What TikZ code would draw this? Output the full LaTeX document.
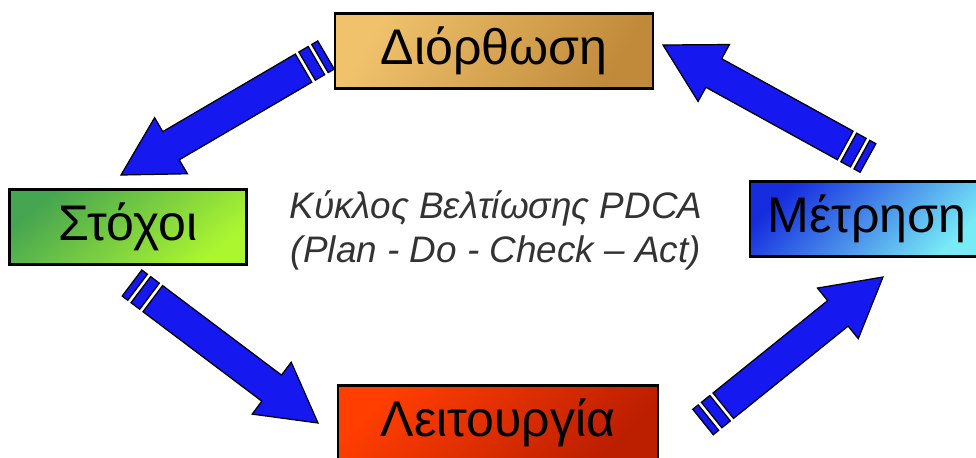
\documentclass[tikz,border=0pt]{standalone}
\usepackage{fontspec}
\setmainfont{Liberation Sans}
\usetikzlibrary{calc}

\definecolor{flowblue}{RGB}{22,24,240}
\definecolor{goldlight}{RGB}{240,194,108}
\definecolor{golddark}{RGB}{192,138,58}
\definecolor{greendark}{RGB}{70,165,80}
\definecolor{greenmid}{RGB}{146,232,60}
\definecolor{greenlight}{RGB}{172,246,48}
\definecolor{bluedark}{RGB}{22,44,222}
\definecolor{bluelight}{RGB}{120,236,246}
\definecolor{redlight}{RGB}{255,62,0}
\definecolor{reddark}{RGB}{188,30,0}

\tikzset{
  stepbox/.style={draw=black, line width=1.3pt, inner sep=0pt,
    minimum height=1.5cm, font=\fontsize{28.5}{31}\selectfont},
  flowarrow/.style={fill=flowblue, draw=black, line width=0.7pt, line join=miter}
}

% block arrow from tail #1 to tip #2, two stripes at the tail
\newcommand{\pdcaflow}[2]{%
  \filldraw[flowarrow]
    ($(#1)!9.3pt!90:(#2)$) -- ($(#1)!4pt!(#2)!9.3pt!90:(#2)$) -- ($(#1)!4pt!(#2)!9.3pt!-90:(#2)$) -- ($(#1)!9.3pt!-90:(#2)$) -- cycle
    ($(#1)!6.3pt!(#2)!9.3pt!90:(#2)$) -- ($(#1)!12.5pt!(#2)!9.3pt!90:(#2)$) -- ($(#1)!12.5pt!(#2)!9.3pt!-90:(#2)$) -- ($(#1)!6.3pt!(#2)!9.3pt!-90:(#2)$) -- cycle
    ($(#1)!14.8pt!(#2)!9.3pt!90:(#2)$) -- ($(#2)!33pt!(#1)!9.3pt!-90:(#1)$) -- ($(#2)!33pt!(#1)!18.5pt!-90:(#1)$) -- (#2)
      -- ($(#2)!33pt!(#1)!18.5pt!90:(#1)$) -- ($(#2)!33pt!(#1)!9.3pt!90:(#1)$) -- ($(#1)!14.8pt!(#2)!9.3pt!-90:(#2)$) -- cycle;
}

\begin{document}
\begin{tikzpicture}[x=0.02cm, y=-0.02cm]
  \useasboundingbox[fill=white] (0,0) rectangle (976,457);

  \node[stepbox, minimum width=6.36cm, top color=goldlight, bottom color=golddark, shading angle=60]
    (diorthosi) at (494,51) {Διόρθωση};
  \node[stepbox, minimum width=4.74cm, top color=greendark, middle color=greenmid, bottom color=greenlight, shading angle=40]
    (stoxoi) at (128,227) {Στόχοι};
  \node[stepbox, minimum width=4.68cm, top color=bluedark, bottom color=bluelight, shading angle=45]
    (metrisi) at (867,219) {Μέτρηση};
  \node[stepbox, minimum width=6.4cm, top color=redlight, bottom color=reddark, shading angle=45]
    (leitourgia) at (498,423) {Λειτουργία};

  \node[align=center, text=black!80, font=\itshape\fontsize{21}{25}\selectfont]
    (kyklos) at (496,230) {Κύκλος Βελτίωσης PDCA\\(Plan - Do - Check – Act)};

  \coordinate (t1) at (326,55);  \coordinate (h1) at (121,175);
  \coordinate (t2) at (132,283); \coordinate (h2) at (318,423);
  \coordinate (t3) at (703,422); \coordinate (h3) at (883,277);
  \coordinate (t4) at (868,158); \coordinate (h4) at (663,45);

  \pdcaflow{t1}{h1}
  \pdcaflow{t2}{h2}
  \pdcaflow{t3}{h3}
  \pdcaflow{t4}{h4}
\end{tikzpicture}
\end{document}
